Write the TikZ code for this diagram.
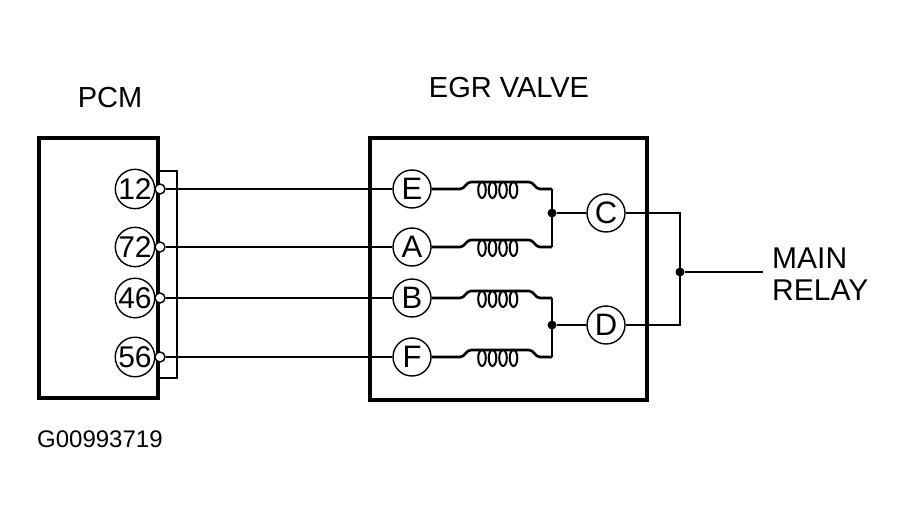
\documentclass[tikz,border=0pt]{standalone}
\usepackage{fontspec}
\setmainfont{Liberation Sans}
\begin{document}
\begin{tikzpicture}[x=1pt,y=-1pt]
  \tikzstyle{box} = [draw, line width=3.2pt, inner sep=0pt]
  \tikzstyle{wire} = [line width=2.7pt]
  \tikzstyle{pin} = [draw, circle, line width=1.4pt, inner sep=0pt, minimum size=#1, font=\fontsize{31}{33}\selectfont]
  \tikzstyle{term} = [draw, circle, fill=white, line width=1.4pt, inner sep=0pt, minimum size=10pt]
  \tikzstyle{dot} = [fill=black, circle, inner sep=0pt, minimum size=9pt]
  \tikzstyle{winding} = [line width=2pt]
  \tikzstyle{caption} = [font=\fontsize{29}{31}\selectfont, inner sep=0pt]
  \useasboundingbox (0,0) rectangle (904,524);
  % boxes and titles
  \node[box, minimum width=119pt, minimum height=260pt] (pcm) at (98.5,268) {};
  \node[box, minimum width=277pt, minimum height=262pt] (egr) at (508.5,269) {};
  \node[caption, anchor=base] (pcmtitle) at (110,107) {PCM};
  \node[caption, anchor=base] (egrtitle) at (509,98) {EGR VALVE};
  \node[caption, anchor=base west, font=\fontsize{24}{26}\selectfont] (code) at (37,447) {G00993719};
  % connector bracket
  \draw[line width=2.4pt] (158,171) -| (177,378) -- (158,378);
  % PCM pins
  \foreach \n/\y in {12/189, 72/247, 46/298, 56/357} {
    \node[pin=36pt, font=\fontsize{30}{32}\selectfont] (p\n) at (135,\y) {\n};
    \node[term] (t\n) at (160,\y) {};
  }
  % EGR pins
  \foreach \p/\y in {E/189, A/247, B/298, F/357}
    \node[pin=38pt] (\p) at (412,\y) {\p};
  \node[pin=38pt] (C) at (606,213) {C};
  \node[pin=38pt] (D) at (606,325) {D};
  % harness
  \draw[wire] (t12) -- (E);
  \draw[wire] (t72) -- (A);
  \draw[wire] (t46) -- (B);
  \draw[wire] (t56) -- (F);
  % coils
  \foreach \p/\y in {E/189, A/247, B/298, F/357} {
    \coordinate (\p end) at (552,\y);
    \draw[wire] (\p) -- (460,\y) to[out=0, in=180] (471,{\y-7}) -- (529,{\y-7})
      to[out=0, in=180] (540,\y) -- (\p end);
    \foreach \k in {0,...,3}
      \draw[winding] ({482+10.5*\k},{\y+1}) ellipse[x radius=3.8pt, y radius=8pt];
  }
  \draw[wire] (Eend) -- (Aend);
  \draw[wire] (Bend) -- (Fend);
  \node[dot] (jC) at (552,213) {};
  \node[dot] (jD) at (552,325) {};
  \draw[wire] (jC) -- (C);
  \draw[wire] (jD) -- (D);
  % main relay feed
  \coordinate (railC) at (680,213);
  \coordinate (railD) at (680,325);
  \coordinate (relay) at (763,272);
  \draw[wire] (C) -- (railC) -- (railD) -- (D);
  \node[dot] (jR) at (680,272) {};
  \draw[wire] (jR) -- (relay);
  \node[caption, anchor=west, align=left, font=\fontsize{30}{32}\selectfont] (relaytext) at (772,274) {MAIN\\RELAY};
\end{tikzpicture}
\end{document}
